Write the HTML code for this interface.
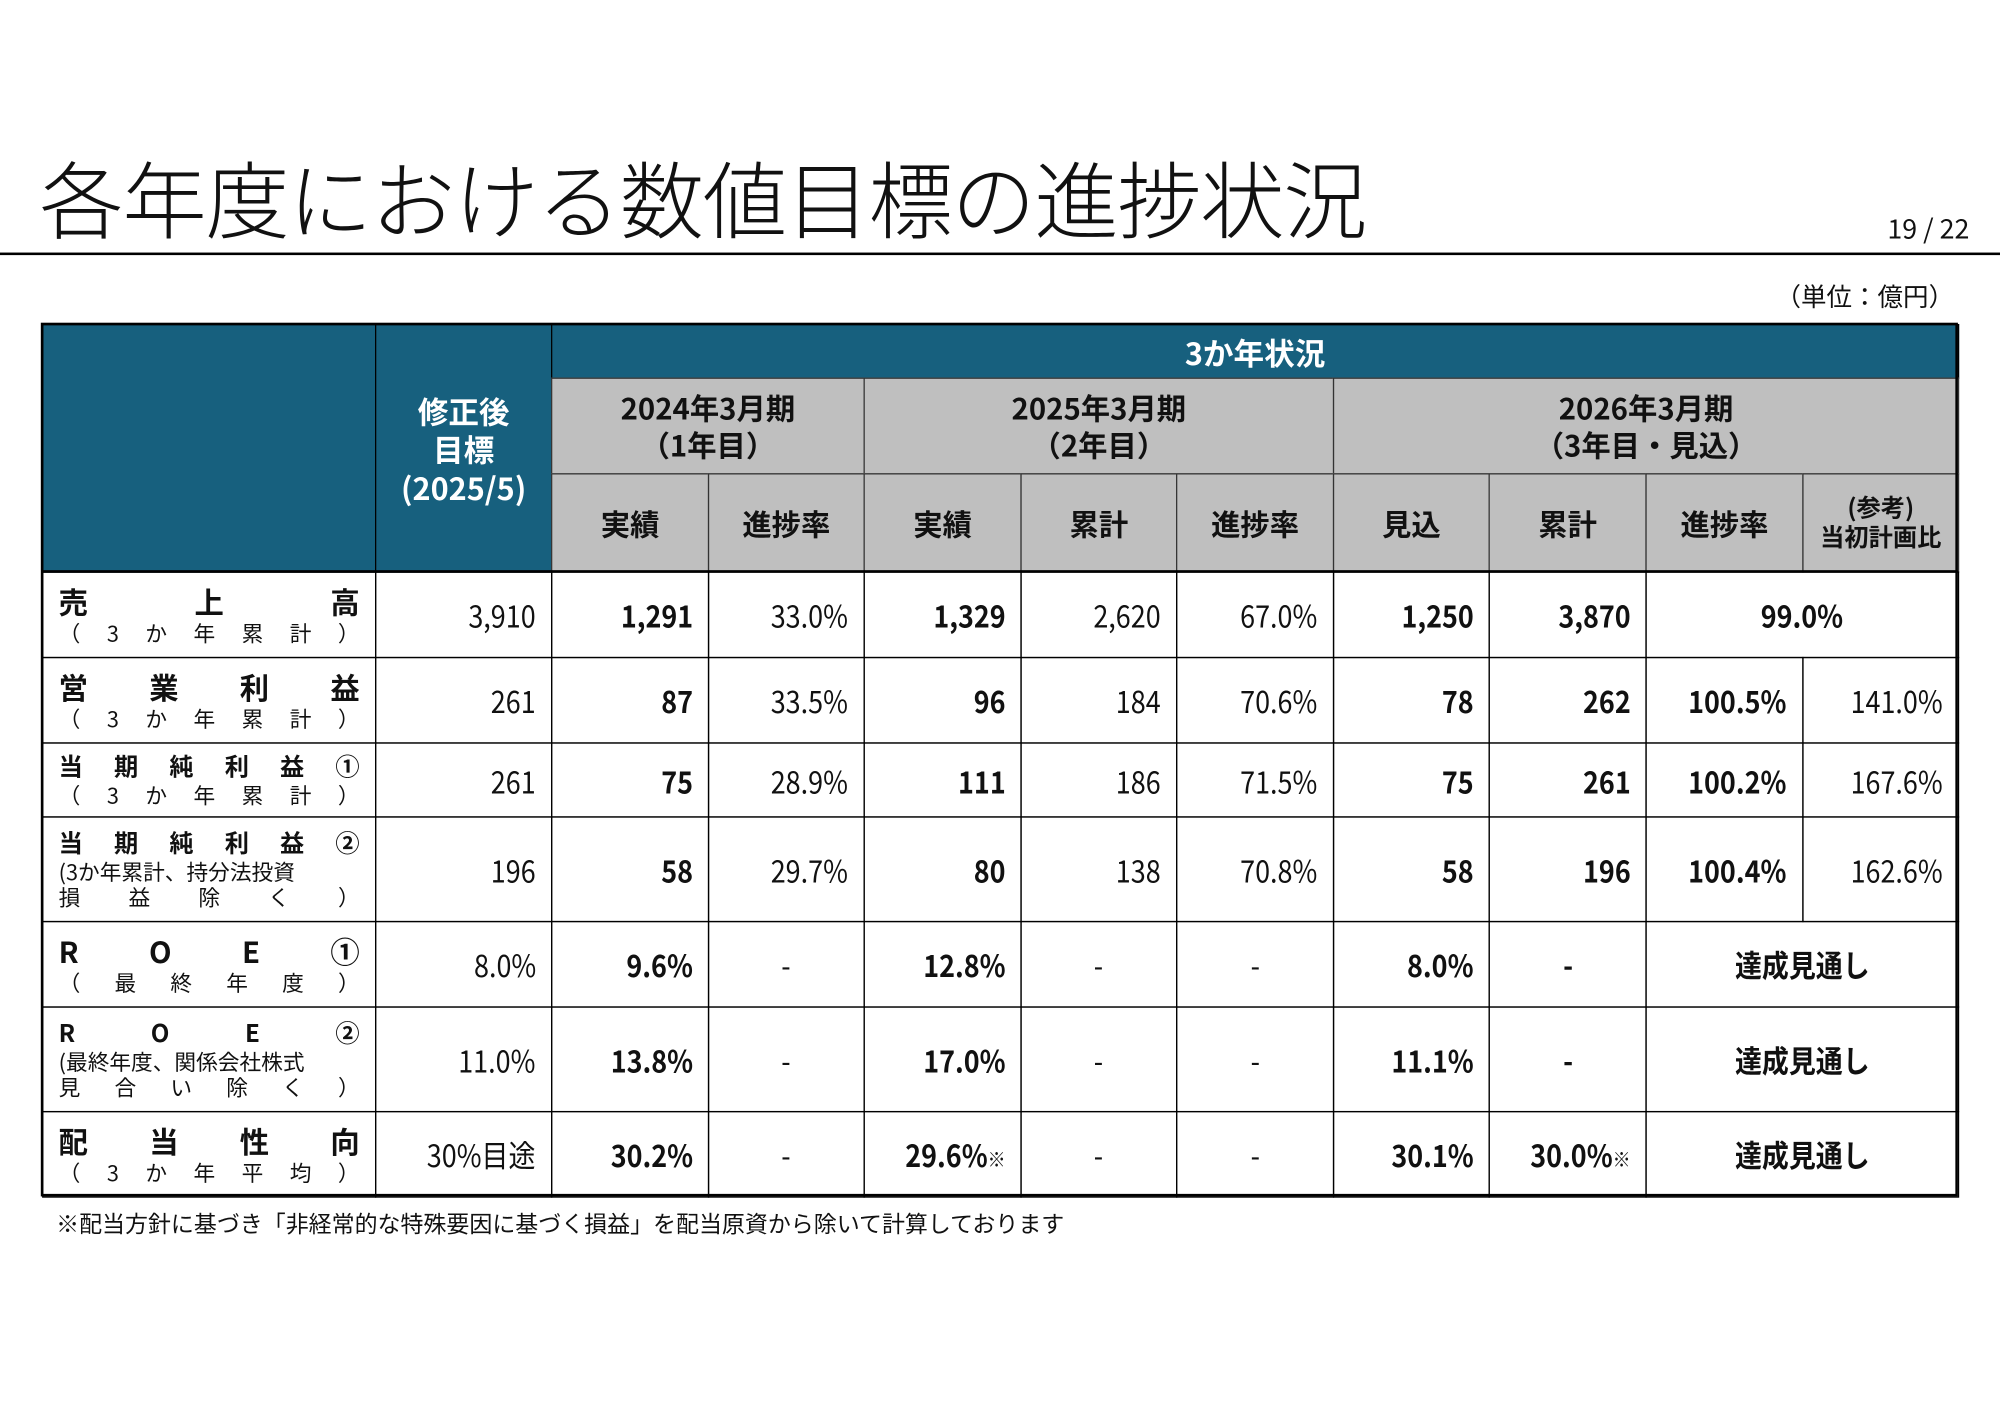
<!DOCTYPE html>
<html><head><meta charset="utf-8">
<style>
html,body{margin:0;padding:0;background:#fff;width:2000px;height:1415px;overflow:hidden}
#s{position:absolute;left:0;top:0;width:1568px;height:1110px;transform:scale(1.27551);transform-origin:0 0;font-family:"Noto Sans CJK JP","Liberation Sans",sans-serif;color:#111}
.c{position:absolute;box-sizing:border-box;border:1px solid #000;display:flex;align-items:center;justify-content:center;text-align:center;line-height:1.25}
.h{background:#17607e;color:#fff;font-weight:700;font-size:24px}
.g{background:#bfbfbf;font-weight:700;font-size:23px;border-color:#333}
.v{font-size:24px;justify-content:flex-end;padding-right:12px}
.v span{display:inline-block;transform:scaleX(0.88);transform-origin:right center}
.b{font-weight:700}
.ctr{justify-content:center;padding-right:0}
.ctr span{transform-origin:center}
.lab{flex-direction:column;align-items:stretch;padding:2px 12px 2px 12px;line-height:1.2}
.ln{display:flex;justify-content:space-between}
.l1{font-weight:700;font-size:23px}
.l1s{font-weight:700;font-size:19px}
.l2{font-size:17px}
.sm{font-size:15px}
</style></head><body>
<div id="s">
<div style="position:absolute;left:31px;top:106px;font-size:66px;font-weight:300;letter-spacing:-1px;white-space:nowrap">各年度における数値目標の進捗状況</div>
<div style="position:absolute;right:24px;top:164px;font-size:21px">19 / 22</div>
<div style="position:absolute;left:0;top:198px;width:1568px;height:2px;background:#000"></div>
<div style="position:absolute;right:36px;top:217px;font-size:20px">（単位：億円）</div>
<div id="t"></div>
<div style="position:absolute;left:44px;top:946px;font-size:18px">※配当方針に基づき「非経常的な特殊要因に基づく損益」を配当原資から除いて計算しております</div>
</div>
<script>
const cols=[33,294,432,555,677,800,922,1045,1167,1290,1413,1535];
const rowsY=[448,515,582,640,722,789,871,938];
const labels=[["売上高","（3か年累計）",null],["営業利益","（3か年累計）",null],["当期純利益①","（3か年累計）",null],["当期純利益②","(3か年累計、持分法投資","損益除く）"],["ROE①","（最終年度）",null],["ROE②","(最終年度、関係会社株式","見合い除く）"],["配当性向","（3か年平均）",null]];
const targets=["3,910","261","261","196","8.0%","11.0%","30%目途"];
const y1Actual=["1,291","87","75","58","9.6%","13.8%","30.2%"];
const y1Rate=["33.0%","33.5%","28.9%","29.7%","-","-","-"];
const y2Actual=["1,329","96","111","80","12.8%","17.0%","29.6%※"];
const y2Cum=["2,620","184","186","138","-","-","-"];
const y2Rate=["67.0%","70.6%","71.5%","70.8%","-","-","-"];
const y3Fcst=["1,250","78","75","58","8.0%","11.1%","30.1%"];
const y3Cum=["3,870","262","261","196","-","-","30.0%※"];
const y3Rate=["99.0%","100.5%","100.2%","100.4%","達成見通し","達成見通し","達成見通し"];
const y3Ref=[null,"141.0%","167.6%","162.6%",null,null,null];
const T=document.getElementById('t');
function cell(x1,x2,y1,y2,cls,html,name){const d=document.createElement('div');d.className='c '+cls;d.style.left=x1+'px';d.style.top=y1+'px';d.style.width=(x2-x1+1)+'px';d.style.height=(y2-y1+1)+'px';d.innerHTML=html;


T.appendChild(d);return d;}
function spread(s,cls){const ch=s.match(/\(|（|[^()（）]|\)|）/g)||[];return '<div class="ln '+cls+'">'+ch.map(c=>'<span>'+c+'</span>').join('')+'</div>';}
cell(cols[0],cols[1],254,448,'h','','header-blank');
cell(cols[1],cols[2],254,448,'h','修正後<br>目標<br>(2025/5)','header-revised-target');
cell(cols[2],cols[11],254,296,'h','3か年状況','header-3year-status');
cell(cols[2],cols[4],296,371,'g','2024年3月期<br>（1年目）','header-fy2024');
cell(cols[4],cols[7],296,371,'g','2025年3月期<br>（2年目）','header-fy2025');
cell(cols[7],cols[11],296,371,'g','2026年3月期<br>（3年目・見込）','header-fy2026');
const subs=['実績','進捗率','実績','累計','進捗率','見込','累計','進捗率','<span style="font-size:19px;line-height:1.2">(参考)<br>当初計画比</span>'];
subs.forEach((s,i)=>{cell(cols[i+2],cols[i+3],371,448,'g',s,'subheader-'+(i+1));});
for(let r=0;r<7;r++){
 const y1=rowsY[r],y2=rowsY[r+1];const L=labels[r];
 let h=spread(L[0],r==2||r==3||r==5?'l1s':'l1')+spread(L[1],r==3||r==5?'l2 sm2':'l2');
 if(L[2])h+=spread(L[2],'l2');
 const lc=cell(cols[0],cols[1],y1,y2,'lab',h,'row-label-'+(r+1));
 if(L[2]){lc.querySelectorAll('.ln')[1].style.justifyContent='flex-start';}
 const vals=[[targets,0],[y1Actual,1],[y1Rate,0],[y2Actual,1],[y2Cum,0],[y2Rate,0],[y3Fcst,1],[y3Cum,1]];
 vals.forEach((v,i)=>{const s=v[0][r];const ctr=(s==='-');
  let txt=s.replace('※','<small style="font-size:16px;font-weight:400">※</small>');
  cell(cols[i+1],cols[i+2],y1,y2,'v'+(v[1]?' b':'')+(ctr?' ctr':''),'<span>'+txt+'</span>','value-r'+(r+1)+'-c'+(i+1));});
 if(y3Ref[r]===null){cell(cols[9],cols[11],y1,y2,'v b ctr','<span>'+y3Rate[r]+'</span>','value-r'+(r+1)+'-rate-merged');}
 else{cell(cols[9],cols[10],y1,y2,'v b','<span>'+y3Rate[r]+'</span>','value-r'+(r+1)+'-rate');
  cell(cols[10],cols[11],y1,y2,'v','<span>'+y3Ref[r]+'</span>','value-r'+(r+1)+'-ref');}
}
const ob=document.createElement('div');


ob.style.cssText='position:absolute;left:32px;top:253px;width:1503px;height:685px;border:2px solid #000;box-sizing:border-box;pointer-events:none';
T.appendChild(ob);
const hl=document.createElement('div');


hl.style.cssText='position:absolute;left:33px;top:447px;width:1502px;height:2px;background:#000';
T.appendChild(hl);
</script>
</body></html>
